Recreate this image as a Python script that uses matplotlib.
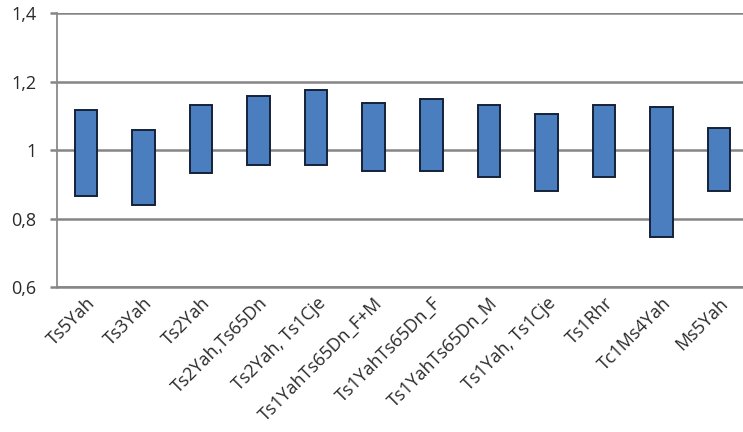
#!/usr/bin/env python3
"""
Floating bars: low/high range per strain
"""
import numpy as np
import matplotlib
matplotlib.use('Agg')
import matplotlib.pyplot as plt

strains = ['Ts5Yah', 'Ts3Yah', 'Ts2Yah', 'Ts2Yah,Ts65Dn', 'Ts2Yah, Ts1Cje',
           'Ts1YahTs65Dn_F+M', 'Ts1YahTs65Dn_F', 'Ts1YahTs65Dn_M',
           'Ts1Yah, Ts1Cje', 'Ts1Rhr', 'Tc1Ms4Yah', 'Ms5Yah']
low = [0.867, 0.840, 0.933, 0.958, 0.958, 0.941, 0.939, 0.923, 0.881, 0.923, 0.748, 0.881]
high = [1.118, 1.059, 1.133, 1.159, 1.176, 1.139, 1.150, 1.131, 1.107, 1.131, 1.125, 1.066]
yticks = [0.6, 0.8, 1.0, 1.2, 1.4]
ytick_labels = ['0,6', '0,8', '1', '1,2', '1,4']

plt.rcParams['font.family'] = ['Open Sans', 'DejaVu Sans']

fig = plt.figure(figsize=(7.43, 4.32), dpi=100)
# plot area runs slightly past the right edge of the image, like the original
ax = fig.add_axes([57/743, (432-287.3)/432, 691/743, 274/432])

x = np.arange(len(strains))
ax.bar(x, np.array(high) - np.array(low), bottom=low, width=0.39,
       color='#4a7ebf', edgecolor='#14213a', linewidth=1.4, zorder=3)

# Axis settings
ax.set_xlim(-0.5, len(strains) - 0.5)
ax.set_ylim(0.6, 1.4)
ax.set_yticks(yticks)
ax.set_yticklabels(ytick_labels)
ax.set_xticks(x)
ax.set_xticklabels(strains, rotation=45, ha='right', rotation_mode='anchor')
ax.yaxis.grid(True, color='#858585', linewidth=1.8, zorder=0)
ax.set_axisbelow(True)
for side in ['top', 'right']:
    ax.spines[side].set_visible(False)
ax.spines['left'].set_color('#8a8a8a')
ax.spines['left'].set_linewidth(1.3)
ax.spines['bottom'].set_color('#858585')
ax.spines['bottom'].set_linewidth(1.8)
ax.tick_params(axis='y', length=5, width=1.8, color='#858585', labelsize=13,
               labelcolor='#2a2a2a', pad=10)
ax.tick_params(axis='x', length=0, labelsize=13, labelcolor='#2a2a2a', pad=5)

plt.savefig('out.png', dpi=100)
plt.close()
